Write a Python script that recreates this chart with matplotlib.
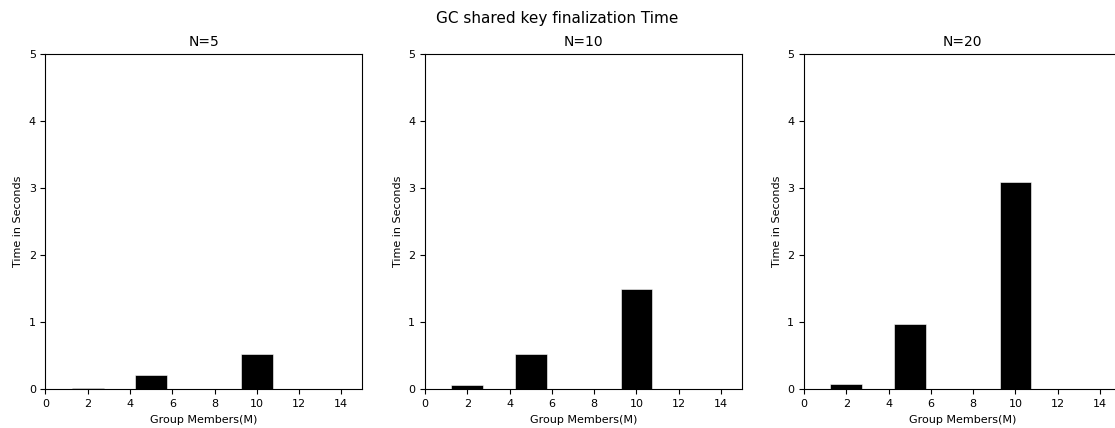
import matplotlib
matplotlib.use("Agg")
import matplotlib.pyplot as plt

members = [2, 5, 10]
titles = ["N=5", "N=10", "N=20"]
times_n5 = [0.02, 0.21, 0.52]
times_n10 = [0.06, 0.52, 1.495]
times_n20 = [0.084, 0.975, 3.09]
series = [times_n5, times_n10, times_n20]
xticks = [0, 2, 4, 6, 8, 10, 12, 14]
yticks = [0, 1, 2, 3, 4, 5]

fig = plt.figure(figsize=(11.15, 4.28), dpi=100)
lefts = [0.0408, 0.3812, 0.7211]
for left, title, vals in zip(lefts, titles, series):
    ax = fig.add_axes([left, 0.0904, 0.2843, 0.7827])
    ax.bar(members, vals, width=1.5, color="black", edgecolor="white", linewidth=0.4)
    ax.set_xlim(0, 15)
    ax.set_ylim(0, 5)
    ax.set_xticks(xticks)
    ax.set_yticks(yticks)
    ax.tick_params(labelsize=8)
    ax.set_title(title, fontsize=10)
    ax.set_xlabel("Group Members(M)", fontsize=8)
    ax.set_ylabel("Time in Seconds", fontsize=8)

fig.suptitle("GC shared key finalization Time", fontsize=11, y=0.975)
fig.savefig("out.png", dpi=100)
